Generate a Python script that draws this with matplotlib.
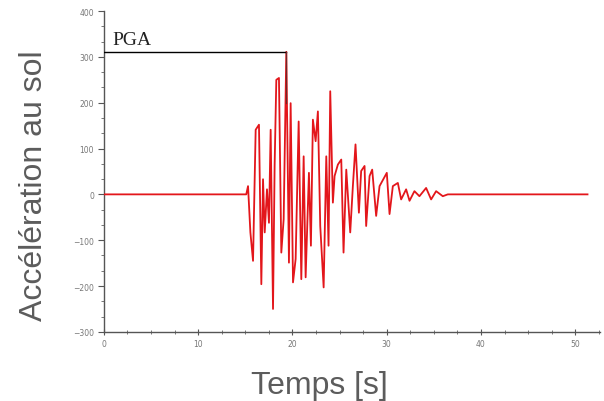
import matplotlib
matplotlib.use("Agg")
import matplotlib.pyplot as plt
from matplotlib.ticker import MultipleLocator

# Ground acceleration record
time_s = [0.0, 15.10, 15.29, 15.54, 15.82, 16.10, 16.45, 16.70, 16.88, 17.06, 17.30,
          17.51, 17.69, 17.94, 18.11, 18.29, 18.57, 18.82, 19.07, 19.35, 19.63,
          19.81, 20.06, 20.34, 20.66, 20.94, 21.19, 21.40, 21.75, 21.96, 22.17,
          22.46, 22.70, 22.95, 23.31, 23.59, 23.83, 24.01, 24.29, 24.47, 24.82,
          25.18, 25.42, 25.71, 26.13, 26.41, 26.69, 27.05, 27.29, 27.65, 27.82,
          28.18, 28.46, 28.88, 29.24, 30.01, 30.30, 30.65, 31.18, 31.53, 32.06,
          32.42, 32.94, 33.47, 34.18, 34.71, 35.24, 35.95, 36.48, 51.3]
accel = [0, 0, 18, -83, -145, 141, 152, -196, 33, -83, 11,
         -62, 141, -250, 62, 250, 254, -127, -54, 311, -149,
         199, -192, -141, 159, -185, 83, -181, 47, -112, 163,
         116, 181, -69, -203, 83, -112, 225, -18, 40, 65,
         76, -127, 54, -83, 18, 109, -40, 51, 62, -69,
         40, 54, -47, 18, 47, -43, 18, 25, -11, 11,
         -14, 7, -4, 14, -11, 7, -4, 0, 0]

pga_value = 311
pga_time = 19.35

x_ticks = [0, 10, 20, 30, 40, 50]
y_ticks = [-300, -200, -100, 0, 100, 200, 300, 400]

fig = plt.figure(figsize=(6.04, 4.02), dpi=100)
ax = fig.add_axes([0.172, 0.172, 0.821, 0.798])

ax.plot(time_s, accel, color="#e3161b", lw=1.3, zorder=3)
ax.plot([0, pga_time], [pga_value, pga_value], color="black", lw=1.0, zorder=4)
ax.plot([pga_time, pga_time], [pga_value, 200], color="#6b2a2a", lw=0.9, zorder=4)
ax.text(0.85, 328, "PGA", family="Liberation Serif", fontsize=14, color="#222222")

ax.set_xlim(0, 52.6)
ax.set_ylim(-300, 400)
ax.set_xticks(x_ticks)
ax.set_yticks(y_ticks)
ax.xaxis.set_minor_locator(MultipleLocator(2.5))
ax.yaxis.set_minor_locator(MultipleLocator(100 / 3))

for s in ["top", "right"]:
    ax.spines[s].set_visible(False)
for s in ["left", "bottom"]:
    ax.spines[s].set_color("#555555")
    ax.spines[s].set_linewidth(1.0)

ax.tick_params(which="major", length=4, width=0.8, color="#555555",
               labelsize=5.5, labelcolor="#777777", pad=3)
ax.tick_params(which="minor", length=2.5, width=0.7, color="#777777")
ax.tick_params(axis="x", which="both", direction="inout")

ax.set_xlabel("Temps [s]", family="Liberation Sans", fontsize=23,
              color="#5c5c5c")
ax.set_ylabel("Accélération au sol", family="Liberation Sans", fontsize=23,
              color="#5c5c5c")
ax.yaxis.set_label_coords(-0.11, 0.458)
ax.xaxis.set_label_coords(0.434, -0.118)

fig.savefig("out.png", dpi=100, facecolor="white")
